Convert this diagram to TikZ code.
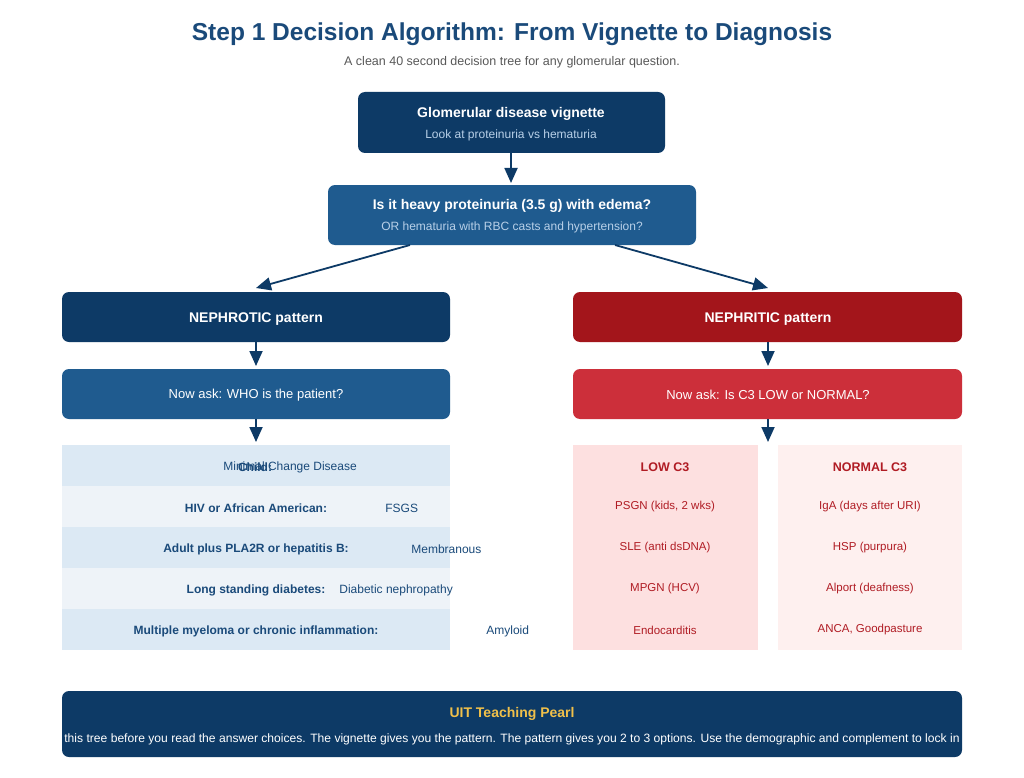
\documentclass[tikz,border=0pt]{standalone}
\usepackage{fontspec}
\setmainfont{Liberation Sans}
\usetikzlibrary{arrows.meta,positioning}
\definecolor{navy}{HTML}{0D3A66}
\definecolor{midblue}{HTML}{1F5B8F}
\definecolor{darkred}{HTML}{A3151B}
\definecolor{midred}{HTML}{CC2F3A}
\definecolor{rowa}{HTML}{DCE9F4}
\definecolor{rowb}{HTML}{EEF3F8}
\definecolor{lowc}{HTML}{FDE0E0}
\definecolor{normc}{HTML}{FEF0EF}
\definecolor{redtxt}{HTML}{B01C24}
\definecolor{bluetxt}{HTML}{1A4A7A}
\definecolor{subtxt}{HTML}{B8D0E8}
\definecolor{gold}{HTML}{F0C04A}
\tikzset{every picture/.style={line width=0.75pt}}
\tikzset{
  head/.style={font=\bfseries\fontsize{14}{16}\selectfont, text=white, inner sep=0pt},
  sub/.style={font=\fontsize{12}{14}\selectfont, text=subtxt, inner sep=0pt},
  cell/.style={font=\fontsize{12}{14}\selectfont, text=bluetxt, inner sep=0pt},
  lab/.style={font=\bfseries\fontsize{12}{14}\selectfont, text=bluetxt, inner sep=0pt},
  rcell/.style={font=\fontsize{11.5}{13}\selectfont, text=redtxt, inner sep=0pt},
  flow/.style={-{Triangle[length=15pt,width=13pt]}, draw=navy, line width=1.8pt},
}
\begin{document}
\begin{tikzpicture}[x=1pt,y=-1pt]
\useasboundingbox[fill=white] (0,0) rectangle (1024,778);

% Title
\node[font=\bfseries\fontsize{24.5}{28}\selectfont, text=bluetxt] (title) at (512,34) {Step 1 Decision Algorithm: From Vignette to Diagnosis};
\node[font=\fontsize{12.5}{15}\selectfont, text=black!65] (subtitle) at (512,62) {A clean 40 second decision tree for any glomerular question.};

% top boxes
\fill[navy, rounded corners=7pt] (358,92) rectangle (665,153);
\node[head] (vig) at (511,114) {Glomerular disease vignette};
\node[sub] (vigsub) at (511,135) {Look at proteinuria vs hematuria};
\coordinate (vigbot) at (511,153);

\fill[midblue, rounded corners=7pt] (328,185) rectangle (696,245);
\node[head] (q) at (512,206) {Is it heavy proteinuria (3.5 g) with edema?};
\node[sub] (qsub) at (512,227) {OR hematuria with RBC casts and hypertension?};
\coordinate (qtop) at (511,183);
\coordinate (qleft) at (410,245);
\coordinate (qright) at (615,245);

% pattern boxes
\fill[navy, rounded corners=7pt] (62,292) rectangle (450,342);
\node[head] (nephrotic) at (256,319) {NEPHROTIC pattern};
\fill[darkred, rounded corners=7pt] (573,292) rectangle (962,342);
\node[head] (nephritic) at (768,319) {NEPHRITIC pattern};
\coordinate (ltop) at (256,288);
\coordinate (rtop) at (768,288);
\coordinate (lbot) at (256,342);
\coordinate (rbot) at (768,342);

% ask boxes
\fill[midblue, rounded corners=7pt] (62,369) rectangle (450,419);
\node[font=\fontsize{13}{15}\selectfont, text=white] (askwho) at (256,395) {Now ask: WHO is the patient?};
\fill[midred, rounded corners=7pt] (573,369) rectangle (962,419);
\node[font=\fontsize{13}{15}\selectfont, text=white] (askc) at (768,395) {Now ask: Is C3 LOW or NORMAL?};
\coordinate (lask) at (256,366);
\coordinate (rask) at (768,366);
\coordinate (laskb) at (256,419);
\coordinate (raskb) at (768,419);
\coordinate (ltab) at (256,442);
\coordinate (rtab) at (768,442);

% arrows
\draw[flow] (vigbot) -- (qtop);
\draw[flow] (qleft) -- (ltop);
\draw[flow] (qright) -- (rtop);
\draw[flow] (lbot) -- (lask);
\draw[flow] (rbot) -- (rask);
\draw[flow] (laskb) -- (ltab);
\draw[flow] (raskb) -- (rtab);

% left table
\foreach \i/\c in {0/rowa,1/rowb,2/rowa,3/rowb,4/rowa}
  \fill[\c] (62,445+41*\i) rectangle (450,486+41*\i);
\node[cell, anchor=west] (mcd) at (223,467) {Minimal Change Disease};
\node[lab] (child) at (255,467) {Child:};
\node[lab] (hiv) at (256,508) {HIV or African American:};
\node[cell, anchor=west] (fsgs) at (385,508) {FSGS};
\node[lab] (adult) at (256,549) {Adult plus PLA2R or hepatitis B:};
\node[cell, anchor=west] (memb) at (411,549) {Membranous};
\node[lab] (diab) at (256,590) {Long standing diabetes:};
\node[cell, anchor=west] (dn) at (339,590) {Diabetic nephropathy};
\node[lab] (mm) at (256,631) {Multiple myeloma or chronic inflammation:};
\node[cell, anchor=west] (amy) at (486,631) {Amyloid};

% right columns
\fill[lowc] (573,445) rectangle (758,650);
\fill[normc] (778,445) rectangle (962,650);
\node[rcell, font=\bfseries\fontsize{12.5}{14}\selectfont] (low) at (665,467) {LOW C3};
\node[rcell] (psgn) at (665,507) {PSGN (kids, 2 wks)};
\node[rcell] (sle) at (665,548) {SLE (anti dsDNA)};
\node[rcell] (mpgn) at (665,589) {MPGN (HCV)};
\node[rcell] (endo) at (665,630) {Endocarditis};
\node[rcell, font=\bfseries\fontsize{12.5}{14}\selectfont] (norm) at (870,467) {NORMAL C3};
\node[rcell] (iga) at (870,507) {IgA (days after URI)};
\node[rcell] (hsp) at (870,548) {HSP (purpura)};
\node[rcell] (alport) at (870,589) {Alport (deafness)};
\node[rcell] (anca) at (870,630) {ANCA, Goodpasture};

% pearl
\fill[navy, rounded corners=7pt] (62,691) rectangle (962,757);
\node[font=\bfseries\fontsize{14}{16}\selectfont, text=gold] (pearl) at (512,714) {UIT Teaching Pearl};
\node[font=\fontsize{12.1}{14}\selectfont, text=white] (pearltxt) at (512,739) {this tree before you read the answer choices. The vignette gives you the pattern. The pattern gives you 2 to 3 options. Use the demographic and complement to lock in};
\end{tikzpicture}
\end{document}
